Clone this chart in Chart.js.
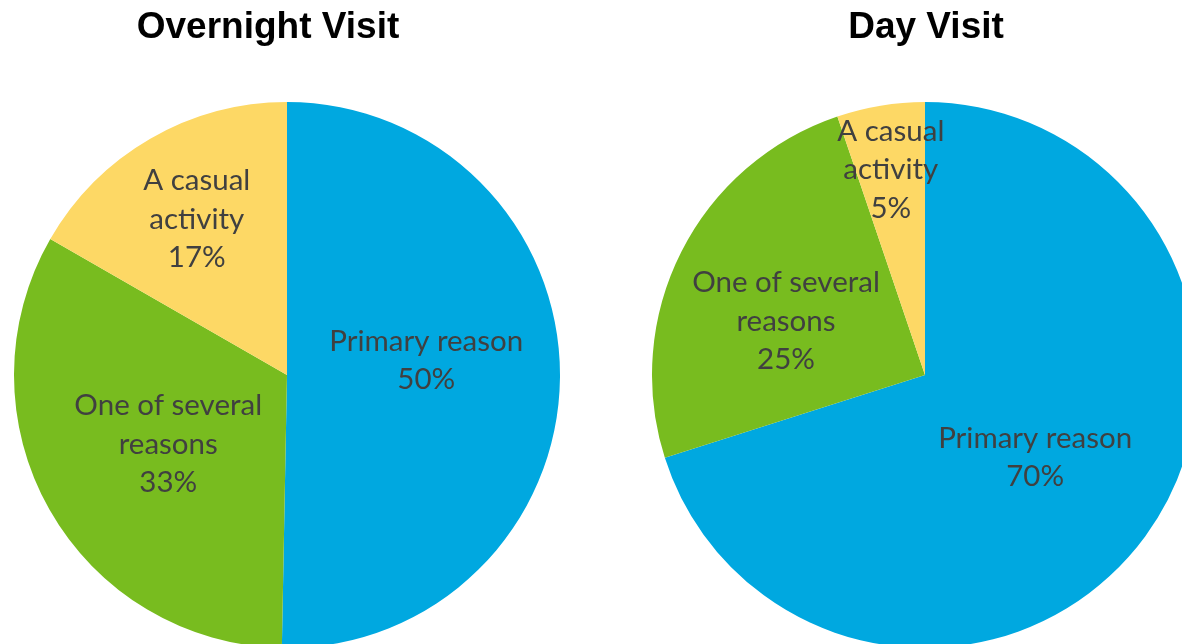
<!DOCTYPE html>
<html>
<head>
<meta charset="utf-8">
<script src="https://cdn.jsdelivr.net/npm/chart.js@4/dist/chart.umd.min.js"></script>
<style>
    html, body { margin: 0; padding: 0; background: #fff; overflow: hidden; width: 1182px; height: 644px; }
    .pie-box { position: absolute; top: 0; width: 574px; height: 660px; }
    #overnightBox { left: 0; }
    #dayBox { left: 638px; }
</style>
</head>
<body>
<div class="pie-box" id="overnightBox"><canvas id="overnightPie"></canvas></div>
<div class="pie-box" id="dayBox"><canvas id="dayPie"></canvas></div>
<script>
// Pie data
const categories = ['Primary reason', 'One of several reasons', 'A casual activity'];
const labelLines = [['Primary reason'], ['One of several', 'reasons'], ['A casual', 'activity']];
const overnightValues = [50.3, 33.0, 16.7];
const dayValues = [70.1, 24.7, 5.2];
const sliceColors = ['#00A8E0', '#78BC1F', '#FDD865'];

// Draws the "name + percent" labels inside each slice
const sliceLabels = {
    id: 'sliceLabels',
    afterDatasetsDraw(chart, args, opts) {
        const ctx = chart.ctx;
        const meta = chart.getDatasetMeta(0);
        const data = chart.data.datasets[0].data;
        const total = data.reduce((a, b) => a + b, 0);
        ctx.save();
        ctx.font = opts.font;
        ctx.fillStyle = '#404040';
        ctx.textAlign = 'center';
        ctx.textBaseline = 'middle';
        meta.data.forEach((arc, i) => {
            const mid = (arc.startAngle + arc.endAngle) / 2;
            const r = arc.outerRadius * opts.dist[i];
            const x = arc.x + Math.cos(mid) * r + (opts.shift[i] ? opts.shift[i][0] : 0);
            const y = arc.y + Math.sin(mid) * r + (opts.shift[i] ? opts.shift[i][1] : 0);
            const lines = labelLines[i].concat([Math.round(data[i] / total * 100) + '%']);
            const top = y - (lines.length - 1) * opts.lineHeight / 2;
            lines.forEach((t, k) => ctx.fillText(t, x, top + k * opts.lineHeight));
        });
        ctx.restore();
    }
};

// Title drawn at a fixed x, since the Excel title is not centred on the pie
const sideTitle = {
    id: 'sideTitle',
    afterDraw(chart, args, opts) {
        const ctx = chart.ctx;
        ctx.save();
        ctx.font = 'bold 37px "Liberation Sans", Arial, sans-serif';
        ctx.fillStyle = '#000';
        ctx.textAlign = 'center';
        ctx.textBaseline = 'middle';
        ctx.fillText(opts.text, opts.x, 28);
        ctx.restore();
    }
};

function makePie(canvasId, values, title, titleX, dist, shift) {
    const ctx = document.getElementById(canvasId).getContext('2d');
    return new Chart(ctx, {
        type: 'pie',
        data: {
            labels: categories,
            datasets: [{
                data: values,
                backgroundColor: sliceColors,
                borderWidth: 0
            }]
        },
        options: {
            responsive: true,
            maintainAspectRatio: false,
            animation: false,
            layout: { padding: { top: 102, bottom: 12, left: 14, right: 14 } },
            plugins: {
                legend: { display: false },
                tooltip: { enabled: false },
                title: { display: false },
                sliceLabels: { font: '29.5px Lato, "Open Sans", sans-serif', lineHeight: 38.5, dist: dist, shift: shift },
                sideTitle: { text: title, x: titleX }
            }
        },
        plugins: [sliceLabels, sideTitle]
    });
}

makePie('overnightPie', overnightValues, 'Overnight Visit', 268, [0.51, 0.5, 0.66], [[0, -16], [0, 2], null]);
makePie('dayPie', dayValues, 'Day Visit', 288, [0.5, 0.55, 0.77], [[0, 2], [-5, 14], [0, 2]]);
</script>
</body>
</html>
